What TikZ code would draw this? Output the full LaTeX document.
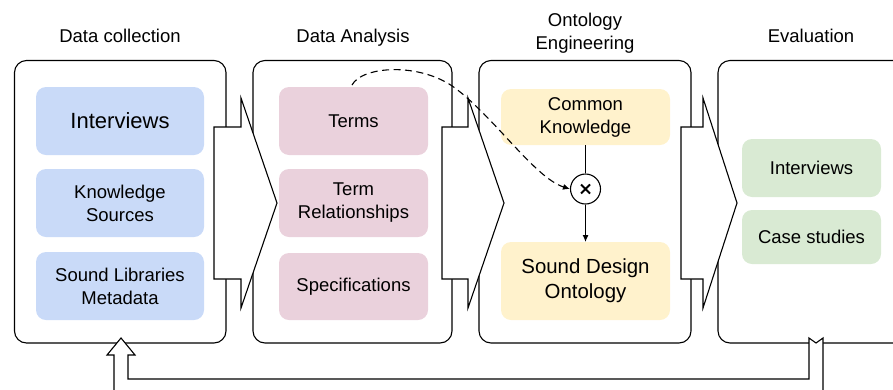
\documentclass[tikz,border=0pt]{standalone}
\usepackage{fontspec}
\setmainfont{Liberation Sans}
\usetikzlibrary{arrows.meta}
\definecolor{blueC}{HTML}{C9DAF8}
\definecolor{pinkC}{HTML}{EAD1DC}
\definecolor{yellowC}{HTML}{FFF2CC}
\definecolor{greenC}{HTML}{D9EAD3}
\begin{document}
\begin{tikzpicture}[x=1pt,y=-1pt,
  panel/.style={draw, line width=1.1pt, rounded corners=12pt, inner sep=0pt, outer sep=0pt},
  blockarrow/.style={draw, fill=white, line width=1.1pt, line join=miter},
  box/.style={rounded corners=10pt, inner sep=0pt, outer sep=0pt, align=center,
    font=\fontsize{18.5}{23}\selectfont},
  ttl/.style={font=\fontsize{18.5}{23}\selectfont, align=center, inner sep=0pt},
  conn/.style={line width=1.1pt},
  tip/.style={-{Latex[length=7pt,width=6pt]}}
]
\useasboundingbox (0,0) rectangle (893,389);
\clip (0,0) rectangle (893,389);

% titles
\node[ttl, anchor=base] (t1) at (120,42) {Data collection};
\node[ttl, anchor=base] (t2) at (353,42) {Data Analysis};
\node[ttl] (t3) at (585,33) {Ontology\\Engineering};
\node[ttl, anchor=base] (t4) at (811,42) {Evaluation};

% panels
\node[panel, minimum width=211.5pt, minimum height=282.5pt] (p1) at (120.25,201.75) {};
\node[panel, minimum width=199pt, minimum height=282.5pt] (p2) at (352.5,201.75) {};
\node[panel, minimum width=212pt, minimum height=282.5pt] (p3) at (585,201.75) {};
\node[panel, minimum width=190pt, minimum height=282.5pt] (p4) at (813,201.75) {};

% block arrows between panels
\draw[blockarrow] (214,127) -- (241,127) -- (241,98) -- (277,203) -- (241,308) -- (241,279) -- (214,279) -- cycle;
\draw[blockarrow] (442,127) -- (468,127) -- (468,98) -- (504,203) -- (468,308) -- (468,279) -- (442,279) -- cycle;
\draw[blockarrow] (681,127) -- (703,127) -- (703,98) -- (737,203) -- (703,308) -- (703,279) -- (681,279) -- cycle;

% Data collection boxes
\node[box, fill=blueC, minimum width=168pt, minimum height=68pt, font=\fontsize{22}{26}\selectfont] (int1) at (120,121) {Interviews};
\node[box, fill=blueC, minimum width=168pt, minimum height=68pt] (ks) at (120,203) {Knowledge\\Sources};
\node[box, fill=blueC, minimum width=168pt, minimum height=68pt] (slm) at (120,286) {Sound Libraries\\Metadata};

% Data analysis boxes
\node[box, fill=pinkC, minimum width=149pt, minimum height=68pt] (terms) at (353.5,121) {Terms};
\node[box, fill=pinkC, minimum width=149pt, minimum height=68pt] (trel) at (353.5,203) {Term\\Relationships};
\node[box, fill=pinkC, minimum width=149pt, minimum height=67pt] (spec) at (353.5,286.5) {Specifications};

% Ontology engineering
\node[box, fill=yellowC, minimum width=169pt, minimum height=56pt] (ck) at (585.5,117) {Common\\Knowledge};
\node[box, fill=yellowC, minimum width=169pt, minimum height=78pt, font=\fontsize{20.4}{25}\selectfont] (sdo) at (585.5,281) {Sound Design\\Ontology};
\node[draw, circle, line width=1.1pt, minimum size=30pt, inner sep=0pt, fill=white,
  path picture={\draw[line width=2pt]
    ([shift={(-4.5pt,-4.5pt)}]path picture bounding box.center) -- ([shift={(4.5pt,4.5pt)}]path picture bounding box.center)
    ([shift={(-4.5pt,4.5pt)}]path picture bounding box.center) -- ([shift={(4.5pt,-4.5pt)}]path picture bounding box.center);}
  ] (mix) at (585.5,189) {};

% Evaluation
\node[box, fill=greenC, minimum width=139pt, minimum height=58pt] (int2) at (811.5,168) {Interviews};
\node[box, fill=greenC, minimum width=139pt, minimum height=54pt] (cs) at (811.5,237) {Case studies};

% connectors
\draw[conn] (ck) -- (mix);
\draw[conn, tip] (mix) -- (sdo);
\draw[conn, tip, dash pattern=on 7pt off 4.5pt]
  ([xshift=-1.5pt,yshift=2pt]terms.north) .. controls (362,66) and (420,62) .. (455,88)
  .. controls (495,118) and (535,178) .. (mix.west);

% feedback block arrow
\draw[blockarrow] (809,338) -- (816,343) -- (823,338) -- (823,395) -- (114,395) -- (114,355)
  -- (107,355) -- (121,338) -- (135,355) -- (128,355) -- (128,379) -- (809,379) -- cycle;
\end{tikzpicture}
\end{document}
